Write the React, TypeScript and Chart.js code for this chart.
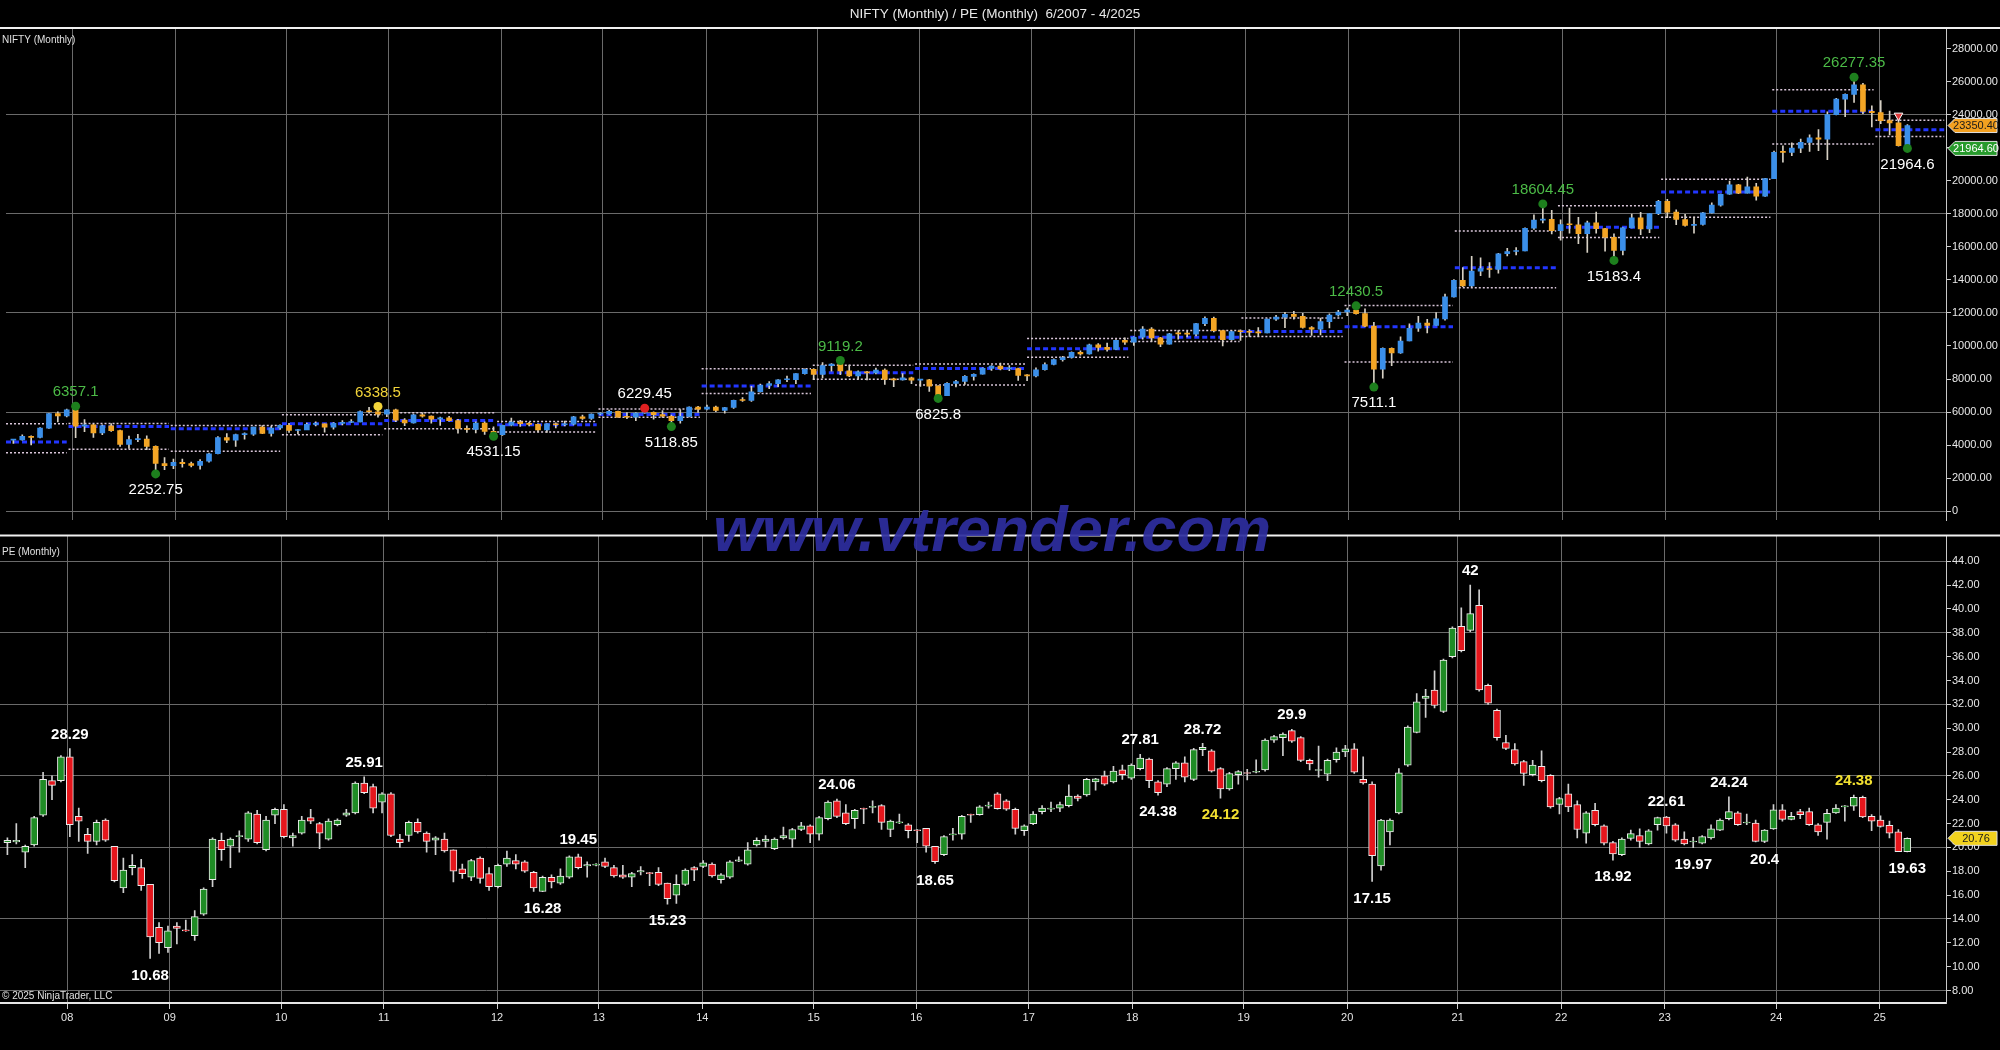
import React, { useEffect, useRef } from 'react';
import { Chart, registerables } from 'chart.js';
Chart.register(...registerables);

const FONT = "'Liberation Sans Narrow', 'Arial Narrow', 'Liberation Sans', Arial, sans-serif";

// ---------- NIFTY monthly OHLC, 6/2007 .. 3/2025 ----------
const NIFTY_O = [
  4295, 4318, 4528, 4464, 5021, 5900, 5762,
  6137, 5137, 5224, 4735, 5165, 4870, 4040, 4333, 4360, 3921, 2885, 2755,
  2959, 2874, 2763, 3021, 3474, 4449, 4291, 4636, 4662, 5084, 4712, 5033,
  5201, 4882, 4922, 5249, 5278, 5087, 5313, 5368, 5402, 6030, 6018, 5863,
  6135, 5506, 5333, 5834, 5749, 5560, 5647, 5482, 5001, 4943, 5327, 4832,
  4624, 5199, 5385, 5296, 5248, 4924, 5279, 5229, 5259, 5703, 5620, 5880,
  5905, 6035, 5693, 5683, 5930, 5986, 5842, 5742, 5471, 5735, 6299, 6176,
  6304, 6090, 6277, 6704, 6696, 7230, 7611, 7721, 7954, 7965, 8322, 8588,
  8283, 8809, 8902, 8491, 8182, 8434, 8369, 8533, 7971, 7949, 8066, 7935,
  7946, 7564, 6987, 7738, 7850, 8160, 8288, 8639, 8786, 8611, 8626, 8224,
  8186, 8561, 8880, 9174, 9304, 9621, 9521, 10077, 9918, 9789, 10335, 10227,
  10531, 11028, 10493, 10114, 10739, 10736, 10714, 11357, 11681, 10930, 10387, 10877,
  10863, 10831, 10793, 11624, 11748, 11923, 11789, 11118, 11023, 11474, 11877, 12056,
  12168, 11962, 11202, 8598, 9860, 9580, 10302, 11073, 11388, 11248, 11642, 12969,
  13982, 13635, 14529, 14691, 14631, 15583, 15722, 15763, 17132, 17618, 17672, 16983,
  17354, 17340, 16794, 17465, 17103, 16585, 15780, 17158, 17759, 17094, 18012, 18758,
  18105, 17662, 17304, 17360, 18065, 18534, 19189, 19754, 19254, 19638, 19080, 20133,
  21731, 21726, 21983, 22327, 22605, 22531, 24011, 24951, 25236, 25811, 24205, 24131,
  23645, 23508, 22125,
];
const NIFTY_H = [
  4327, 4620, 4560, 5055, 5922, 6012, 6185,
  6357.1, 5546, 5270, 5230, 5298, 4908, 4540, 4650, 4560, 3950, 3240, 3147,
  3147, 2968, 3123, 3518, 4509, 4693, 4669, 4743, 5088, 5182, 5138, 5221,
  5311, 4950, 5330, 5400, 5278, 5366, 5477, 5549, 6073, 6284, 6338.5, 6147,
  6182, 5600, 5872, 5944, 5775, 5700, 5740, 5551, 5169, 5400, 5400, 5099,
  5217, 5630, 5499, 5379, 5279, 5286, 5348, 5448, 5735, 5815, 5885, 5965,
  6111, 6052, 5971, 5963, 6229.45, 6011, 6093, 5808, 6142, 6309, 6342, 6415,
  6358, 6283, 6731, 6869, 7563, 7700, 7841, 7968, 8180, 8331, 8617, 8627,
  8996, 8941, 9119.2, 8844, 8490, 8467, 8655, 8622, 8055, 8336, 8116, 7980,
  7973, 7600, 7777, 7922, 8213, 8308, 8674, 8819, 8968, 8806, 8669, 8274,
  8672, 8982, 9218, 9367, 9650, 9709, 10115, 10138, 10179, 10384, 10490, 10553,
  11171, 11118, 10525, 10760, 10929, 10893, 11366, 11760, 11751, 10930, 10922, 10985,
  10988, 11118, 11630, 11856, 12041, 12103, 11981, 11181, 11695, 11945, 12159, 12294,
  12430.5, 12246, 11433, 9889, 9890, 10554, 11341, 11794, 11618, 12025, 13146, 14024,
  14754, 15432, 15337, 15044, 15606, 15916, 15962, 17153, 17947, 18604.45, 18210, 17639,
  18350, 17794, 17559, 18115, 17132, 16794, 17172, 17992, 18096, 18022, 18816, 18888,
  18251, 17972, 17799, 18089, 18662, 19201, 19991, 19795, 20222, 19849, 20158, 21801,
  22124, 22297, 22526, 22783, 23111, 24174, 24999, 25268, 26277.35, 25907, 24538, 24857,
  24226, 23807, 23402,
];
const NIFTY_L = [
  4100, 4290, 4002, 4430, 5000, 5400, 5700,
  4448, 4803, 4468, 4628, 4827, 3918, 3790, 4200, 3715, 2252.75, 2502, 2570,
  2661, 2677, 2539, 2965, 3468, 4143, 3918, 4353, 4576, 4687, 4538, 4943,
  4766, 4675, 4935, 5160, 4786, 4961, 5225, 5349, 5403, 5937, 5690, 5721,
  5416, 5178, 5330, 5693, 5328, 5195, 5453, 4720, 4758, 4728, 4640, 4531.15,
  4588, 5159, 5135, 5154, 4789, 4770, 5032, 5164, 5215, 5548, 5548, 5823,
  5870, 5671, 5604, 5477, 5910, 5566, 5676, 5118.85, 5318, 5700, 5972, 6130,
  6027, 5933, 6212, 6650, 6638, 7200, 7422, 7540, 7841, 7724, 8290, 7961,
  8065, 8470, 8269, 8144, 7997, 7940, 8315, 7667, 7540, 7930, 7714, 7551,
  7241, 6825.8, 6985, 7517, 7678, 7927, 8287, 8518, 8555, 8506, 7916, 7893,
  8133, 8537, 8860, 9075, 9269, 9448, 9500, 9686, 9688, 9780, 10094, 10033,
  10405, 10276, 9951, 10111, 10418, 10550, 10604, 11234, 10850, 10005, 10341, 10334,
  10583, 10585, 10785, 11549, 11108, 11625, 11085, 10637, 10670, 11090, 11802, 11832,
  11929, 11175, 7511.1, 8055, 8806, 9544, 10299, 10882, 10790, 11240, 11557, 12962,
  13597, 13596, 14265, 14151, 14416, 15450, 15513, 15760, 17055, 17452, 16782, 16410,
  16836, 16203, 15671, 16825, 15735, 15183.4, 15511, 17154, 16748, 16855, 17959, 17774,
  17353, 17255, 16828, 17312, 18042, 18464, 19180, 19223, 19250, 18837, 19058, 20130,
  21137, 21530, 21710, 21777, 21821, 21281, 23992, 23894, 24754, 24073, 23263, 23460,
  22786, 22104, 21964.6,
];
const NIFTY_C = [
  4318, 4528, 4464, 5021, 5900, 5762, 6139,
  5137, 5224, 4735, 5165, 4870, 4040, 4333, 4360, 3921, 2885, 2755, 2959,
  2874, 2763, 3021, 3474, 4449, 4291, 4636, 4662, 5084, 4712, 5033, 5201,
  4882, 4922, 5249, 5278, 5087, 5313, 5368, 5402, 6030, 6018, 5863, 6135,
  5506, 5333, 5834, 5749, 5560, 5647, 5482, 5001, 4943, 5327, 4832, 4624,
  5199, 5385, 5296, 5248, 4924, 5279, 5229, 5259, 5703, 5620, 5880, 5905,
  6035, 5693, 5683, 5930, 5986, 5842, 5742, 5471, 5735, 6299, 6176, 6304,
  6090, 6277, 6704, 6696, 7230, 7611, 7721, 7954, 7965, 8322, 8588, 8283,
  8809, 8902, 8491, 8182, 8434, 8369, 8533, 7971, 7949, 8066, 7935, 7946,
  7564, 6987, 7738, 7850, 8160, 8288, 8639, 8786, 8611, 8626, 8224, 8186,
  8561, 8880, 9174, 9304, 9621, 9521, 10077, 9918, 9789, 10335, 10227, 10531,
  11028, 10493, 10114, 10739, 10736, 10714, 11357, 11681, 10930, 10387, 10877, 10863,
  10831, 10793, 11624, 11748, 11923, 11789, 11118, 11023, 11474, 11877, 12056, 12168,
  11962, 11202, 8598, 9860, 9580, 10302, 11073, 11388, 11248, 11642, 12969, 13982,
  13635, 14529, 14691, 14631, 15583, 15722, 15763, 17132, 17618, 17672, 16983, 17354,
  17340, 16794, 17465, 17103, 16585, 15780, 17158, 17759, 17094, 18012, 18758, 18105,
  17662, 17304, 17360, 18065, 18534, 19189, 19754, 19254, 19638, 19080, 20133, 21731,
  21726, 21983, 22327, 22605, 22531, 24011, 24951, 25236, 25811, 24205, 24131, 23645,
  23508, 22125, 23350.4,
];

// ---------- PE monthly OHLC ----------
const PE_O = [
  20.4, 20.45, 19.6, 20.2, 22.7, 25.6, 25.6,
  27.6, 22.6, 21.1, 20.5, 22.3, 20.1, 16.6, 18.3, 18.3, 16.9, 13.3, 11.6,
  13.4, 13.05, 12.6, 14.4, 17.3, 20.6, 20.1, 20.9, 20.7, 22.8, 19.8, 22.7,
  23.2, 20.8, 21.2, 22.5, 22.0, 20.7, 21.9, 22.7, 22.9, 25.4, 25.1, 23.8,
  24.5, 20.7, 21.0, 22.1, 21.2, 20.6, 20.7, 19.8, 18.2, 17.5, 19.1, 17.8,
  16.7, 18.6, 18.9, 18.8, 17.9, 16.3, 17.5, 17.0, 17.5, 19.2, 18.45, 18.5,
  18.8, 18.3, 17.7, 17.5, 17.95, 17.85, 17.9, 17.0, 16.0, 16.9, 18.3, 18.4,
  18.6, 17.3, 17.5, 18.85, 18.6, 20.2, 20.5, 19.9, 20.8, 20.7, 21.5, 21.8,
  21.1, 22.4, 23.9, 22.9, 22.4, 23.25, 23.35, 23.5, 21.5, 22.05, 21.9, 21.45,
  21.6, 20.1, 19.4, 21.05, 21.1, 22.75, 22.75, 23.45, 24.5, 23.9, 23.2, 21.4,
  22.0, 23.0, 23.2, 23.3, 23.5, 24.3, 24.4, 25.5, 26.0, 25.5, 26.5, 25.8,
  26.6, 27.4, 25.5, 25.3, 26.6, 27.1, 25.7, 28.2, 28.1, 26.6, 24.9, 26.1,
  26.25, 26.3, 26.5, 29.0, 29.2, 29.8, 29.2, 27.3, 26.45, 26.15, 27.35, 28.0,
  28.27, 25.7, 25.3, 18.45, 21.3, 22.9, 26.9, 29.65, 32.5, 33.2, 31.4, 36.0,
  38.55, 38.2, 40.3, 33.6, 31.5, 28.8, 28.2, 27.2, 26.1, 26.8, 26.05, 23.6,
  24.5, 23.6, 21.2, 23.1, 21.8, 20.4, 19.4, 20.75, 21.0, 20.3, 21.9, 22.55,
  21.9, 20.7, 20.45, 20.35, 20.8, 21.45, 22.4, 22.9, 22.05, 22.05, 20.5, 21.55,
  23.15, 22.35, 23.0, 23.0, 21.9, 22.1, 22.9, 23.4, 23.45, 24.2, 22.6, 22.3,
  21.85, 21.3, 19.65,
];
const PE_H = [
  20.8, 22.0, 20.2, 22.6, 26.3, 26.0, 27.7,
  28.29, 23.3, 21.6, 22.3, 22.4, 20.1, 19.1, 19.4, 19.0, 16.9, 13.7, 13.4,
  13.7, 13.9, 14.7, 16.6, 20.8, 21.2, 20.8, 21.4, 23.0, 23.1, 22.6, 23.3,
  23.6, 21.2, 22.6, 23.2, 22.1, 22.4, 22.4, 23.2, 25.5, 25.91, 25.3, 24.6,
  24.6, 21.1, 22.2, 22.4, 21.3, 20.9, 21.2, 19.8, 18.6, 19.0, 19.2, 18.3,
  18.6, 19.7, 19.4, 18.9, 18.0, 17.6, 17.7, 18.2, 19.3, 19.45, 18.8, 18.65,
  19.1, 18.5, 18.5, 17.9, 18.4, 17.9, 18.3, 17.0, 17.7, 18.2, 18.4, 18.9,
  18.7, 17.8, 18.9, 19.2, 20.4, 20.8, 21.0, 20.8, 21.7, 21.6, 22.1, 21.9,
  22.6, 23.9, 24.06, 23.6, 23.2, 23.3, 23.9, 23.6, 22.3, 22.8, 22.0, 21.5,
  21.6, 20.1, 21.0, 21.6, 22.7, 22.8, 23.5, 23.8, 24.6, 24.0, 23.3, 21.9,
  23.0, 23.5, 23.8, 23.8, 25.25, 24.4, 25.8, 25.8, 26.4, 26.8, 26.9, 27.0,
  27.81, 27.5, 25.6, 26.7, 27.2, 27.6, 28.3, 28.72, 28.2, 26.7, 26.3, 26.45,
  26.55, 27.35, 29.1, 29.4, 29.6, 29.9, 29.3, 27.4, 28.5, 27.4, 28.35, 28.55,
  28.7, 27.6, 25.5, 22.35, 22.4, 26.6, 30.2, 32.9, 33.25, 34.8, 35.8, 38.5,
  40.1, 42.0, 41.6, 33.7, 31.6, 29.4, 28.7, 27.3, 27.3, 28.1, 26.1, 24.2,
  25.3, 23.9, 23.0, 23.7, 21.9, 20.5, 20.8, 21.45, 21.55, 21.5, 22.55, 22.61,
  22.0, 21.3, 20.85, 21.0, 21.9, 22.4, 24.24, 23.0, 22.8, 22.3, 21.5, 23.6,
  23.6, 22.95, 23.2, 23.3, 22.0, 23.2, 23.6, 23.5, 24.38, 24.3, 22.75, 22.65,
  22.2, 21.5, 20.8,
];
const PE_L = [
  19.4, 20.3, 18.3, 20.1, 22.6, 24.0, 25.5,
  20.9, 20.5, 19.5, 20.2, 20.5, 17.1, 16.2, 17.7, 16.4, 10.68, 11.1, 11.2,
  11.9, 12.95, 12.2, 14.3, 16.7, 18.9, 18.3, 19.6, 20.5, 20.3, 19.7, 22.0,
  20.8, 20.1, 21.1, 22.0, 19.9, 20.6, 21.8, 22.6, 22.8, 24.5, 22.9, 22.9,
  20.9, 20.0, 20.5, 21.2, 19.6, 19.4, 19.6, 17.1, 17.4, 17.2, 17.0, 16.4,
  16.6, 18.4, 18.2, 17.9, 16.3, 16.28, 16.6, 16.9, 17.4, 18.2, 17.5, 18.45,
  18.3, 17.5, 17.4, 16.7, 17.7, 16.8, 16.8, 15.23, 15.3, 16.8, 17.2, 18.3,
  17.5, 17.0, 17.4, 18.8, 18.5, 20.1, 20.0, 19.8, 20.7, 20.0, 21.4, 20.4,
  20.6, 22.3, 22.5, 21.9, 21.6, 22.0, 22.9, 21.5, 20.9, 22.0, 20.8, 20.4,
  19.6, 18.65, 19.3, 20.6, 20.7, 22.1, 22.7, 23.3, 23.2, 23.1, 21.1, 21.0,
  21.9, 22.8, 23.0, 23.0, 23.4, 23.9, 24.3, 24.8, 25.2, 25.4, 25.7, 25.7,
  26.5, 25.0, 24.38, 25.1, 25.7, 25.5, 25.6, 27.7, 26.3, 24.12, 24.8, 25.3,
  25.65, 26.25, 26.4, 28.8, 27.7, 28.8, 27.2, 26.5, 25.9, 25.6, 27.15, 27.6,
  26.2, 25.3, 17.15, 18.1, 20.2, 22.8, 26.8, 29.6, 30.9, 31.7, 31.3, 35.9,
  36.4, 38.1, 33.1, 32.0, 29.0, 28.2, 26.9, 25.2, 26.0, 25.5, 23.3, 22.8,
  23.0, 20.8, 20.35, 21.8, 20.2, 18.92, 19.3, 20.6, 20.0, 20.2, 21.45, 21.2,
  20.5, 20.2, 19.97, 20.3, 20.7, 21.4, 22.3, 21.85, 21.9, 20.45, 20.4, 21.5,
  22.2, 22.3, 22.4, 21.85, 21.0, 20.7, 22.85, 22.2, 23.1, 22.5, 21.4, 21.7,
  20.8, 19.7, 19.63,
];
const PE_C = [
  20.6, 20.6, 20.1, 22.5, 25.7, 25.2, 27.6,
  21.9, 22.2, 20.5, 22.1, 20.6, 17.2, 18.1, 18.5, 16.8, 12.5, 12.0, 13.0,
  13.2, 13.0, 14.2, 16.5, 20.7, 19.8, 20.7, 21.0, 22.9, 20.4, 22.3, 23.2,
  20.9, 21.0, 22.3, 22.2, 21.2, 22.2, 22.3, 22.9, 25.4, 24.6, 23.3, 24.5,
  21.0, 20.4, 22.1, 21.3, 20.5, 20.8, 19.7, 18.0, 17.8, 18.9, 17.4, 16.7,
  18.5, 19.1, 18.6, 18.0, 16.6, 17.5, 17.1, 17.6, 19.2, 18.3, 18.55, 18.6,
  18.4, 17.6, 17.5, 17.8, 18.05, 17.8, 16.9, 15.7, 16.9, 18.1, 18.1, 18.7,
  17.6, 17.7, 18.8, 18.95, 19.8, 20.6, 20.7, 20.7, 21.0, 21.5, 21.8, 21.1,
  22.5, 23.8, 22.6, 22.0, 23.1, 23.2, 23.45, 22.1, 22.2, 22.15, 21.4, 21.4,
  20.1, 18.8, 20.9, 21.1, 22.6, 22.7, 23.4, 23.55, 23.25, 23.2, 21.6, 21.8,
  22.8, 23.3, 23.3, 23.6, 24.3, 24.1, 25.7, 25.75, 25.3, 26.4, 26.1, 26.9,
  27.5, 25.6, 24.6, 26.6, 27.1, 25.9, 28.2, 28.4, 26.4, 24.9, 26.2, 26.35,
  26.2, 26.35, 29.0, 29.3, 29.5, 28.9, 27.3, 27.0, 26.5, 27.3, 28.0, 28.27,
  26.3, 25.4, 19.3, 22.3, 22.3, 26.25, 30.1, 32.2, 32.7, 31.9, 35.7, 38.4,
  36.5, 39.6, 33.2, 32.1, 29.2, 28.3, 27.0, 26.2, 26.9, 25.6, 23.4, 24.1,
  23.4, 21.5, 22.9, 21.9, 20.35, 19.45, 20.7, 21.15, 20.5, 21.4, 22.5, 21.8,
  20.6, 20.3, 20.5, 20.9, 21.55, 22.3, 23.0, 21.9, 22.1, 20.5, 21.45, 23.15,
  22.35, 22.6, 22.75, 21.9, 21.3, 22.85, 23.3, 23.45, 24.2, 22.55, 22.2, 21.75,
  21.2, 19.65, 20.76,
];

// ---------- axes ----------
const YEAR_TICKS = [6.7, 18.2, 30.7, 42.2, 54.9, 66.3, 77.9, 90.4, 101.9, 114.5, 126.1, 138.6, 150.2, 162.6, 174.2, 185.8, 198.3, 209.9];
const YEAR_LABELS = ['08', '09', '10', '11', '12', '13', '14', '15', '16', '17', '18', '19', '20', '21', '22', '23', '24', '25'];
const NIFTY_TICKS = [0, 2000, 4000, 6000, 8000, 10000, 12000, 14000, 16000, 18000, 20000, 22000, 24000, 26000, 28000];
const PE_TICKS = [8, 10, 12, 14, 16, 18, 20, 22, 24, 26, 28, 30, 32, 34, 36, 38, 40, 42, 44];
const X_MIN = -0.83;
const X_MAX = 217.34;

// ---------- yearly reference lines (2007 .. 2025) ----------
const SEG_UPPER = [5290, 5310, 5190, 5830, 5950, 5425, 6185, 8617, 8838, 8916, 10455, 10934, 11695, 12449, 16958, 18485, 20090, 25520, 23676];
const SEG_MID = [4186, 5126, 4987, 5287, 5485, 5227, 5844, 7581, 8377, 8640, 9838, 10533, 10874, 11160, 14743, 17186, 19324, 24220, 23096];
const SEG_LOWER = [3527, 3749, 3629, 4629, 4988, 4786, 5683, 7120, 7980, 7641, 9317, 10275, 10575, 9030, 13520, 16575, 17797, 22230, 22683];

// ---------- swing annotations: [bar index, 'H' | 'L', label colour, dot colour] ----------
const NIFTY_SWINGS: [number, string, string, string][] = [
  [7, 'H', '#4cbb47', '#1d7f1d'], [16, 'L', '#ffffff', '#1d7f1d'], [41, 'H', '#f2d43a', '#f2d43a'],
  [54, 'L', '#ffffff', '#1d7f1d'], [71, 'H', '#ffffff', '#e02020'], [74, 'L', '#ffffff', '#1d7f1d'],
  [93, 'H', '#4cbb47', '#1d7f1d'], [104, 'L', '#ffffff', '#1d7f1d'], [151, 'H', '#4cbb47', '#1d7f1d'],
  [153, 'L', '#ffffff', '#1d7f1d'], [172, 'H', '#4cbb47', '#1d7f1d'], [180, 'L', '#ffffff', '#1d7f1d'],
  [207, 'H', '#4cbb47', '#1d7f1d'], [213, 'L', '#ffffff', '#1d7f1d'],
];
const PE_SWINGS: [number, string, string][] = [
  [7, 'H', '#ffffff'], [16, 'L', '#ffffff'], [40, 'H', '#ffffff'], [60, 'L', '#ffffff'], [64, 'H', '#ffffff'],
  [74, 'L', '#ffffff'], [93, 'H', '#ffffff'], [104, 'L', '#ffffff'], [127, 'H', '#ffffff'], [129, 'L', '#ffffff'],
  [134, 'H', '#ffffff'], [136, 'L', '#f2e030'], [144, 'H', '#ffffff'], [153, 'L', '#ffffff'], [164, 'H', '#ffffff'],
  [180, 'L', '#ffffff'], [186, 'H', '#ffffff'], [189, 'L', '#ffffff'], [193, 'H', '#ffffff'], [197, 'L', '#ffffff'],
  [207, 'H', '#f2e030'], [213, 'L', '#ffffff'],
];
const SIGNAL_IDX = [212];
const SIGNAL_VAL = [23950];

const BLUE = '#3b8fe9';
const ORANGE = '#f3a525';
const GREEN = '#1f8c25';
const RED = '#e5161c';
const GRID = '#6a6a6a';

function segData(vals: number[]) {
  const bounds = [X_MIN, ...YEAR_TICKS.map((t) => t - 0.5), X_MAX];
  const pts: any[] = [];
  vals.forEach((v, k) => {
    pts.push({ x: bounds[k], y: v }, { x: bounds[k + 1] - 0.2, y: v }, { x: bounds[k + 1] - 0.1, y: null });
  });
  return pts;
}

function candleDatasets(O: number[], H: number[], L: number[], C: number[], up: string, down: string, wick: string, bodyW: number, border: number, borderColor: string) {
  return [
    {
      type: 'bar', label: 'wick', order: 5, grouped: false, barThickness: 1,
      data: O.map((_, i) => ({ x: i, y: [L[i], H[i]] })),
      backgroundColor: wick, borderWidth: 0,
    },
    {
      type: 'bar', label: 'body', order: 4, grouped: false, barThickness: bodyW, minBarLength: 1,
      data: O.map((o, i) => ({ x: i, y: [Math.min(o, C[i]), Math.max(o, C[i])] })),
      backgroundColor: O.map((o, i) => (C[i] >= o ? up : down)),
      borderColor, borderWidth: border, borderSkipped: false,
    },
  ];
}

function text(ctx: any, s: string, x: number, y: number, font: string, color: string, align = 'center') {
  ctx.save();
  ctx.font = font;
  ctx.fillStyle = color;
  ctx.textAlign = align;
  ctx.textBaseline = 'middle';
  ctx.fillText(s, x, y);
  ctx.restore();
}

function tag(ctx: any, x0: number, y: number, s: string, bg: string, fg: string) {
  ctx.save();
  ctx.beginPath();
  ctx.moveTo(x0, y);
  ctx.lineTo(x0 + 7, y - 7);
  ctx.lineTo(1997, y - 7);
  ctx.lineTo(1997, y + 7);
  ctx.lineTo(x0 + 7, y + 7);
  ctx.closePath();
  ctx.fillStyle = bg;
  ctx.fill();
  ctx.strokeStyle = '#e0e0e0';
  ctx.lineWidth = 1;
  ctx.stroke();
  ctx.restore();
  text(ctx, s, (x0 + 7 + 1997) / 2, y + 0.5, `11px ${FONT}`, fg);
}

function xAxis(showLabels: boolean) {
  return {
    type: 'linear', min: X_MIN, max: X_MAX, offset: false,
    grid: { offset: false, color: GRID, lineWidth: 1, drawTicks: showLabels, tickLength: 6, tickColor: '#d0d0d0' },
    border: { display: showLabels, color: '#e6e6e6', width: 2 },
    ticks: {
      display: showLabels, color: '#e4e4e4', font: { family: FONT, size: 11 }, padding: 2,
      maxRotation: 0, autoSkip: false, callback: (_v: any, i: number) => YEAR_LABELS[i],
    },
    afterBuildTicks: (s: any) => { s.ticks = YEAR_TICKS.map((v) => ({ value: v })); },
    afterFit: (s: any) => { s.height = showLabels ? 40 : 0; },
  };
}

function yAxis(min: number, max: number, ticks: number[], gridEvery: (v: number) => boolean, fmt: (v: number) => string) {
  return {
    position: 'right', min, max,
    grid: {
      color: (c: any) => (c.tick && gridEvery(c.tick.value) ? GRID : 'rgba(0,0,0,0)'),
      tickColor: '#cfcfcf', tickLength: 5, drawTicks: true, lineWidth: 1,
    },
    border: { display: true, color: '#c8c8c8', width: 1 },
    ticks: { color: '#e8e8e8', font: { family: FONT, size: 11 }, padding: 1, callback: (v: any) => fmt(Number(v)) },
    afterBuildTicks: (s: any) => { s.ticks = ticks.map((v) => ({ value: v })); },
    afterFit: (s: any) => { s.width = 54; },
  };
}

function topConfig(): any {
  const last = NIFTY_C.length - 1;
  const decor = {
    id: 'topDecor',
    afterDraw(chart: any) {
      const { ctx, chartArea, scales } = chart;
      const xs = scales.x, ys = scales.y;
      ctx.save();
      ctx.strokeStyle = '#f0f0f0';
      ctx.lineWidth = 2;
      ctx.beginPath();
      ctx.moveTo(0, chartArea.top);
      ctx.lineTo(2000, chartArea.top);
      ctx.stroke();
      ctx.restore();
      text(ctx, 'NIFTY (Monthly) / PE (Monthly)  6/2007 - 4/2025', 995, 14, `13.5px ${FONT}`, '#e8e8e8');
      text(ctx, 'NIFTY (Monthly)', 2, chartArea.top + 12, `10px ${FONT}`, '#e0e0e0', 'left');
      NIFTY_SWINGS.forEach(([i, t, col]) => {
        const v = t === 'H' ? NIFTY_H[i] : NIFTY_L[i];
        const y = ys.getPixelForValue(v) + (t === 'H' ? -14 : 16);
        text(ctx, String(v), xs.getPixelForValue(i), y, `15px ${FONT}`, col);
      });
      tag(ctx, chartArea.right + 2, ys.getPixelForValue(NIFTY_C[last]), NIFTY_C[last].toFixed(2), '#f3a020', '#1a1a1a');
      tag(ctx, chartArea.right + 2, ys.getPixelForValue(NIFTY_L[last]), NIFTY_L[last].toFixed(2), '#279a2c', '#ffffff');
    },
  };
  return {
    type: 'bar',
    data: {
      datasets: [
        { type: 'line', order: 8, data: segData(SEG_UPPER), borderColor: '#d9c6d9', borderWidth: 1.5, borderDash: [2, 2], pointRadius: 0, spanGaps: false, fill: false },
        { type: 'line', order: 8, data: segData(SEG_LOWER), borderColor: '#d9c6d9', borderWidth: 1.5, borderDash: [2, 2], pointRadius: 0, spanGaps: false, fill: false },
        { type: 'line', order: 7, data: segData(SEG_MID), borderColor: '#2236ff', borderWidth: 3, borderDash: [5, 3], pointRadius: 0, spanGaps: false, fill: false },
        ...candleDatasets(NIFTY_O, NIFTY_H, NIFTY_L, NIFTY_C, BLUE, ORANGE, '#d6d0c4', 5, 0, 'rgba(0,0,0,0)'),
        {
          type: 'scatter', order: 1,
          data: NIFTY_SWINGS.map(([i, t]) => ({ x: i, y: t === 'H' ? NIFTY_H[i] : NIFTY_L[i] })),
          pointRadius: 4.5, pointBackgroundColor: NIFTY_SWINGS.map((s) => s[3]), pointBorderWidth: 0,
        },
        {
          type: 'scatter', order: 0,
          data: SIGNAL_IDX.map((i, k) => ({ x: i, y: SIGNAL_VAL[k] })),
          pointStyle: 'triangle', rotation: 180, pointRadius: 5, pointBackgroundColor: '#e03a3a', pointBorderColor: '#ffffff', pointBorderWidth: 1,
        },
      ],
    },
    options: {
      responsive: false, maintainAspectRatio: false, animation: false, events: [],
      layout: { padding: { top: 28, bottom: 2, left: 0, right: 0 } },
      plugins: { legend: { display: false }, tooltip: { enabled: false } },
      scales: {
        x: xAxis(false),
        y: yAxis(-563, 29257, NIFTY_TICKS, (v) => v % 6000 === 0, (v) => (v === 0 ? '0' : v.toFixed(2))),
      },
    },
    plugins: [decor],
  };
}

function botConfig(): any {
  const last = PE_C.length - 1;
  const decor = {
    id: 'botDecor',
    afterDraw(chart: any) {
      const { ctx, chartArea, scales } = chart;
      const xs = scales.x, ys = scales.y;
      ctx.save();
      ctx.strokeStyle = '#f0f0f0';
      ctx.lineWidth = 2;
      ctx.beginPath();
      ctx.moveTo(0, chartArea.top);
      ctx.lineTo(2000, chartArea.top);
      ctx.stroke();
      ctx.restore();
      text(ctx, 'PE (Monthly)', 2, chartArea.top + 17, `10px ${FONT}`, '#e0e0e0', 'left');
      text(ctx, '\u00a9 2025 NinjaTrader, LLC', 2, chartArea.bottom - 7, `10px ${FONT}`, '#e0e0e0', 'left');
      PE_SWINGS.forEach(([i, t, col]) => {
        const v = t === 'H' ? PE_H[i] : PE_L[i];
        const y = ys.getPixelForValue(v) + (t === 'H' ? -14 : 17);
        text(ctx, String(v), xs.getPixelForValue(i), y, `bold 15px ${FONT}`, col);
      });
      tag(ctx, chartArea.right + 2, ys.getPixelForValue(PE_C[last]), PE_C[last].toFixed(2), '#f2d21e', '#1a1a1a');
    },
  };
  return {
    type: 'bar',
    data: {
      datasets: [...candleDatasets(PE_O, PE_H, PE_L, PE_C, GREEN, RED, '#cfcfcf', 7, 1, '#ececec')],
    },
    options: {
      responsive: false, maintainAspectRatio: false, animation: false, events: [],
      layout: { padding: { top: 1, bottom: 7, left: 0, right: 0 } },
      plugins: { legend: { display: false }, tooltip: { enabled: false } },
      scales: {
        x: xAxis(true),
        y: yAxis(6.95, 46.15, PE_TICKS, (v) => (v - 8) % 6 === 0, (v) => v.toFixed(2)),
      },
    },
    plugins: [decor],
  };
}

export default function App() {
  const topRef = useRef<HTMLCanvasElement>(null);
  const botRef = useRef<HTMLCanvasElement>(null);
  useEffect(() => {
    const c1 = new Chart(topRef.current as HTMLCanvasElement, topConfig());
    const c2 = new Chart(botRef.current as HTMLCanvasElement, botConfig());
    return () => {
      c1.destroy();
      c2.destroy();
    };
  }, []);
  return (
    <div style={{ position: 'fixed', left: 0, top: 0, width: 2000, height: 1050, background: '#000', overflow: 'hidden' }}>
      <canvas ref={topRef} width={2000} height={528} style={{ position: 'absolute', left: 0, top: 0, width: 2000, height: 528 }} />
      <canvas ref={botRef} width={2000} height={522} style={{ position: 'absolute', left: 0, top: 528, width: 2000, height: 522 }} />
      <div
        style={{
          position: 'absolute', left: 992, top: 498, transform: 'translateX(-50%)',
          font: "italic bold 63px 'Liberation Sans', Arial, sans-serif", lineHeight: '63px',
          color: 'rgba(46,46,160,0.92)', whiteSpace: 'nowrap', pointerEvents: 'none',
        }}
      >
        www.vtrender.com
      </div>
    </div>
  );
}
